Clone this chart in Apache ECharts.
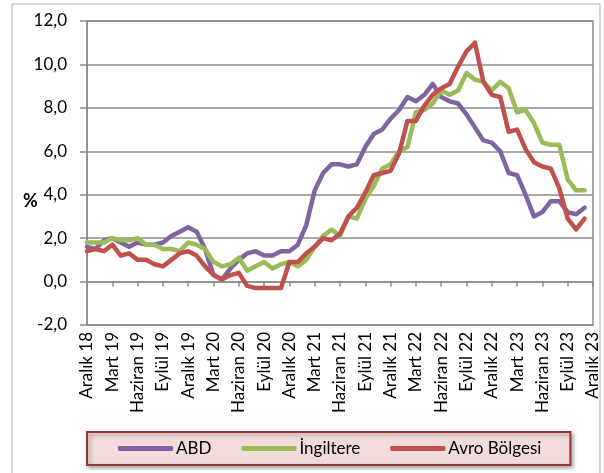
<!DOCTYPE html>
<html>
<head>
<meta charset="utf-8">
<script src="https://cdn.jsdelivr.net/npm/echarts@6/dist/echarts.min.js"></script>
<style>
    html, body {margin: 0; padding: 0; background: #fff;}
    #main {width: 604px; height: 473px;}
</style>
</head>
<body>
<div id="main"></div>
<script>
var aylar = [
    'Aralık 18', 'Ocak 19', 'Şubat 19', 'Mart 19', 'Nisan 19', 'Mayıs 19', 'Haziran 19', 'Temmuz 19', 'Ağustos 19', 'Eylül 19', 'Ekim 19', 'Kasım 19',
    'Aralık 19', 'Ocak 20', 'Şubat 20', 'Mart 20', 'Nisan 20', 'Mayıs 20', 'Haziran 20', 'Temmuz 20', 'Ağustos 20', 'Eylül 20', 'Ekim 20', 'Kasım 20',
    'Aralık 20', 'Ocak 21', 'Şubat 21', 'Mart 21', 'Nisan 21', 'Mayıs 21', 'Haziran 21', 'Temmuz 21', 'Ağustos 21', 'Eylül 21', 'Ekim 21', 'Kasım 21',
    'Aralık 21', 'Ocak 22', 'Şubat 22', 'Mart 22', 'Nisan 22', 'Mayıs 22', 'Haziran 22', 'Temmuz 22', 'Ağustos 22', 'Eylül 22', 'Ekim 22', 'Kasım 22',
    'Aralık 22', 'Ocak 23', 'Şubat 23', 'Mart 23', 'Nisan 23', 'Mayıs 23', 'Haziran 23', 'Temmuz 23', 'Ağustos 23', 'Eylül 23', 'Ekim 23', 'Kasım 23',
    'Aralık 23'
];

var abd = [
    1.6, 1.5, 1.9, 2.0, 1.8, 1.6, 1.8, 1.7, 1.7, 1.8, 2.1, 2.3,
    2.5, 2.3, 1.5, 0.3, 0.1, 0.6, 1.0, 1.3, 1.4, 1.2, 1.2, 1.4,
    1.4, 1.7, 2.6, 4.2, 5.0, 5.4, 5.4, 5.3, 5.4, 6.2, 6.8, 7.0,
    7.5, 7.9, 8.5, 8.3, 8.6, 9.1, 8.5, 8.3, 8.2, 7.7, 7.1, 6.5,
    6.4, 6.0, 5.0, 4.9, 4.0, 3.0, 3.2, 3.7, 3.7, 3.2, 3.1, 3.4
];

var ingiltere = [
    1.8, 1.8, 1.8, 2.0, 1.9, 1.9, 2.0, 1.7, 1.7, 1.5, 1.5, 1.4,
    1.8, 1.7, 1.5, 0.9, 0.7, 0.8, 1.1, 0.5, 0.7, 0.9, 0.6, 0.8,
    0.9, 0.7, 1.0, 1.6, 2.1, 2.4, 2.1, 3.0, 2.9, 3.8, 4.4, 5.2,
    5.4, 6.0, 6.2, 7.8, 7.9, 8.2, 8.8, 8.6, 8.8, 9.6, 9.3, 9.2,
    8.8, 9.2, 8.9, 7.8, 7.9, 7.3, 6.4, 6.3, 6.3, 4.7, 4.2, 4.2
];

var avroBolgesi = [
    1.4, 1.5, 1.4, 1.7, 1.2, 1.3, 1.0, 1.0, 0.8, 0.7, 1.0, 1.3,
    1.4, 1.2, 0.7, 0.3, 0.1, 0.3, 0.4, -0.2, -0.3, -0.3, -0.3, -0.3,
    0.9, 0.9, 1.3, 1.6, 2.0, 1.9, 2.2, 3.0, 3.4, 4.1, 4.9, 5.0,
    5.1, 5.9, 7.4, 7.4, 8.1, 8.6, 8.9, 9.1, 9.9, 10.6, 11.0, 9.2,
    8.6, 8.5, 6.9, 7.0, 6.1, 5.5, 5.3, 5.2, 4.3, 2.9, 2.4, 2.9
];

var font = 'Lato, "Open Sans", sans-serif',
    gri = '#8c8c8c';

function seri(ad, renk, veri) {
    return {
        name: ad,
        type: 'line',
        symbol: 'none',
        data: veri,
        itemStyle: {color: renk},
        lineStyle: {color: renk, width: 4.5, cap: 'round', join: 'round'}
    };
}

var myChart = echarts.init(document.getElementById('main'));
myChart.setOption({
    animation: false,
    textStyle: {fontFamily: font},
    grid: {
        left: 87, right: 11, top: 21, bottom: 148,
        show: true, borderColor: gri, borderWidth: 1.5
    },
    graphic: [{
        type: 'rect',
        shape: {x: 12, y: 4, width: 588, height: 472},
        style: {fill: 'none', stroke: '#b0b0b0', lineWidth: 1},
        z: -1
    }, {
        type: 'text',
        left: 23, top: 192,
        style: {text: '%', font: 'bold 18px ' + font, fill: '#000'}
    }],
    legend: {
        left: 87, top: 432,
        padding: [8, 29, 8, 31],
        itemGap: 30,
        itemWidth: 55,
        itemHeight: 5,
        icon: 'roundRect',
        backgroundColor: '#f2dcdb',
        borderColor: '#953735',
        borderWidth: 2,
        shadowBlur: 4,
        shadowColor: 'rgba(0,0,0,0.35)',
        shadowOffsetX: 2,
        shadowOffsetY: 2,
        textStyle: {fontSize: 17, color: '#000', fontFamily: font, padding: [0, 0, 0, -2]},
        data: ['ABD', 'İngiltere', 'Avro Bölgesi']
    },
    xAxis: {
        type: 'category',
        boundaryGap: false,
        data: aylar,
        axisLine: {lineStyle: {color: gri, width: 1.5}},
        axisTick: {interval: 2, length: 5, lineStyle: {color: gri, width: 1.5}},
        axisLabel: {interval: 2, rotate: 90, fontSize: 17, color: '#000', margin: 7}
    },
    yAxis: {
        type: 'value',
        min: -2,
        max: 12,
        interval: 2,
        axisLine: {show: true, lineStyle: {color: gri, width: 1.5}},
        axisTick: {show: true, length: 7, lineStyle: {color: gri, width: 1.5}},
        splitLine: {lineStyle: {color: gri, width: 1.5}},
        axisLabel: {
            fontSize: 17, color: '#000', margin: 20,
            formatter: function (v) {
                return v.toFixed(1).replace('.', ',');
            }
        }
    },
    series: [
        seri('ABD', '#8064a2', abd),
        seri('İngiltere', '#9bbb59', ingiltere),
        seri('Avro Bölgesi', '#c0504d', avroBolgesi)
    ]
});
</script>
</body>
</html>
